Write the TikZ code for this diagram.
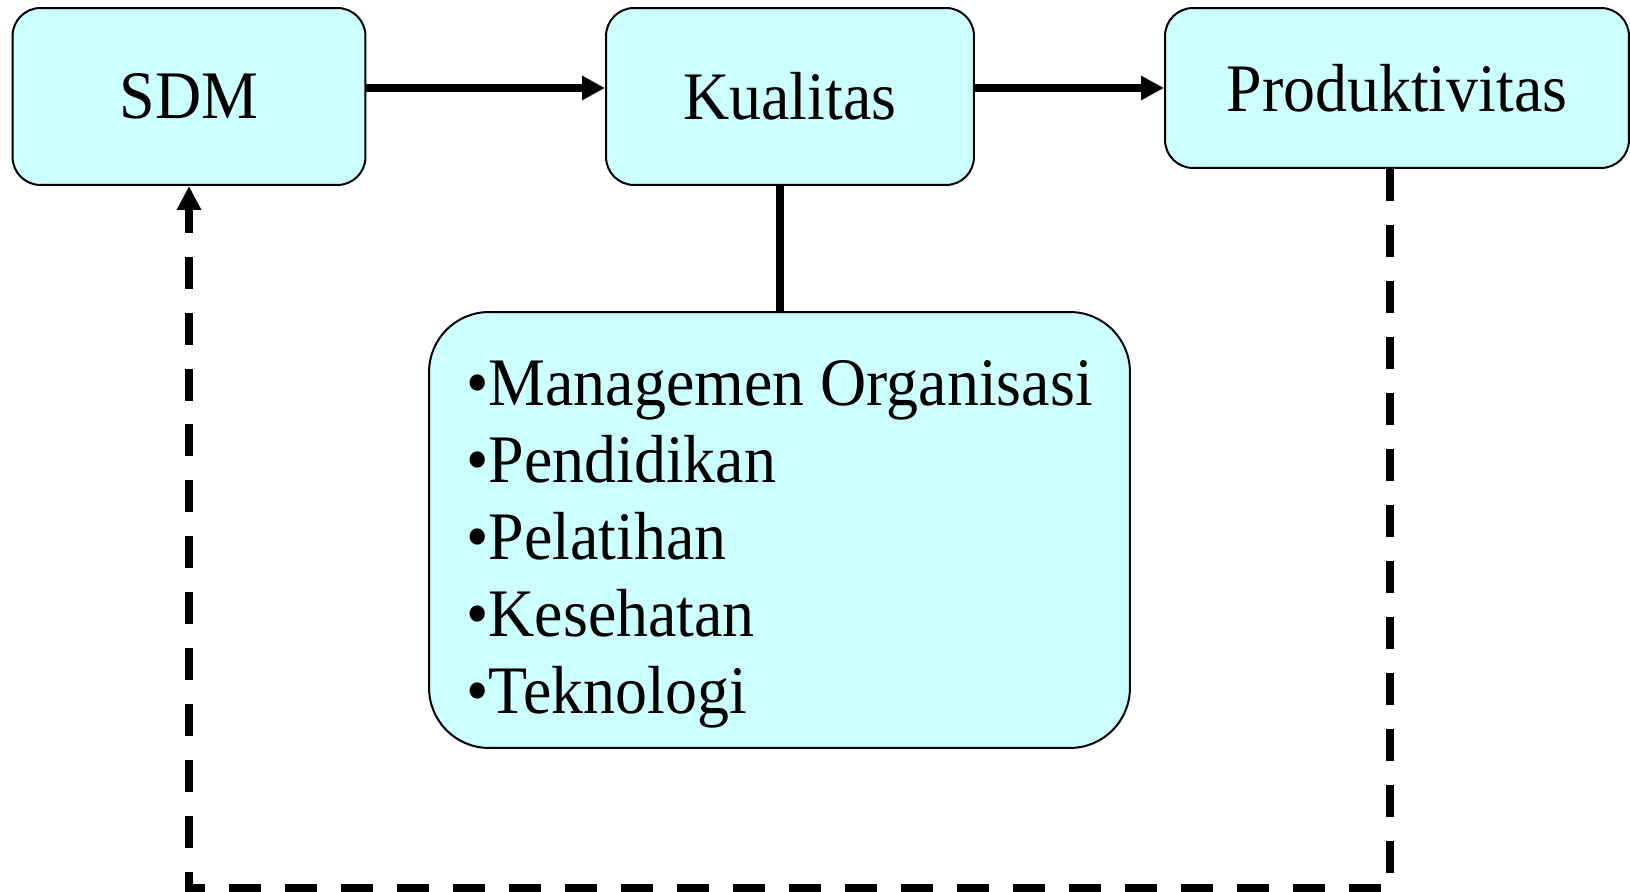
\documentclass[tikz,border=0pt]{standalone}
\usepackage{fontspec}
\setmainfont{Liberation Serif}[FakeStretch=0.94]
\usepackage{xcolor}
\usepackage{tikz}
\usetikzlibrary{calc, positioning, arrows.meta}

\definecolor{cyanmuda}{HTML}{CCFFFF}

\begin{document}
\begin{tikzpicture}[x=0.02cm, y=0.02cm,
    every node/.style={font=\fontsize{38.7}{43.8}\selectfont, inner sep=0pt},
    kotak/.style={draw, line width=0.04cm, fill=cyanmuda, rounded corners=0.56cm, minimum height=3.54cm},
    kotakbesar/.style={draw, line width=0.04cm, fill=cyanmuda, rounded corners=1.2cm, align=left},
    panah/.style={line width=0.16cm, -{Triangle[length=0.46cm, width=0.46cm]}},
    putus/.style={line width=0.16cm, dash pattern=on 0.64cm off 0.48cm, -{Triangle[length=0.48cm, width=0.46cm]}}]
    \useasboundingbox (0,0) rectangle (1630,892);
    % Three boxes in the top row
    \node[kotak, minimum width=7.06cm] (sdm) at (189,795.5) {SDM};
    \node[kotak, minimum width=7.36cm] (kual) at (790,795.5) {Kualitas};
    \node[kotak, minimum width=9.28cm, minimum height=3.2cm] (prod) at (1397,804) {Produktivitas};
    % Box with the factors
    \node[kotakbesar, minimum width=14.02cm, minimum height=8.72cm] (faktor) at (779.5,362)
        {\rule{0pt}{1.46cm}•Managemen Organisasi\\•Pendidikan\\•Pelatihan\\•Kesehatan\\•Teknologi};
    % Arrows along the top
    \draw[panah] (sdm.east |- prod.west) -- (kual.west |- prod.west);
    \draw[panah] (kual.east |- prod.west) -- (prod.west);
    % Link from Kualitas down to the factors
    \draw[line width=0.16cm] (faktor.north) -- (faktor.north |- kual.south);
    % Dashed loop back to SDM
    \coordinate (bawah) at (190,4);
    \draw[putus] ([xshift=-0.14cm]prod.south) -- ([xshift=-0.14cm]prod.south |- bawah) -| (sdm.south);
\end{tikzpicture}
\end{document}
